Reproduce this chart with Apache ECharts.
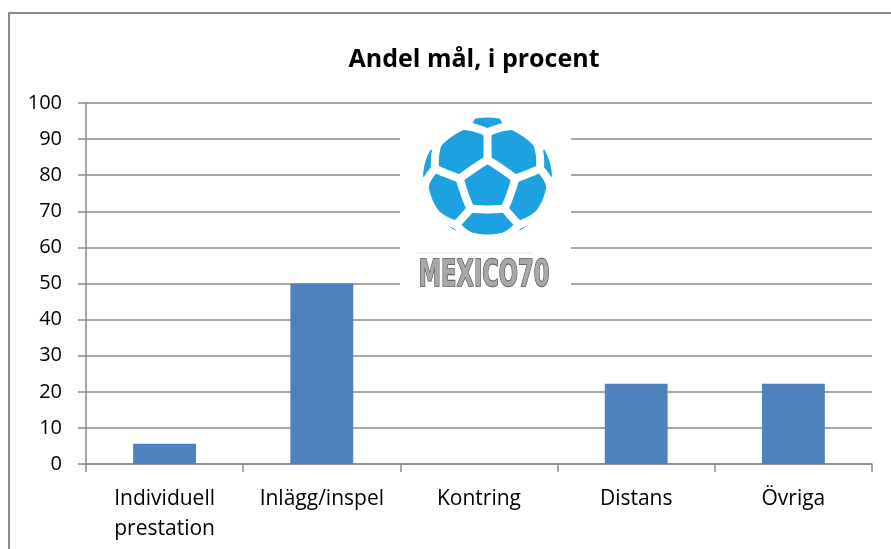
<!DOCTYPE html>
<html>
<head>
<meta charset="utf-8">
<title>Andel mål, i procent</title>
<script src="https://cdn.jsdelivr.net/npm/echarts@6/dist/echarts.min.js"></script>
<style>
  html, body { margin: 0; padding: 0; background: #fff; }
  #main { width: 891px; height: 549px; }
</style>
</head>
<body>
<div id="main"></div>
<script>
// data
var categories = ['Individuell\nprestation', 'Inlägg/inspel', 'Kontring', 'Distans', 'Övriga'];
var andel = [5.6, 50, 0, 22.2, 22.2];
var yTicks = [0, 10, 20, 30, 40, 50, 60, 70, 80, 90, 100];

var FONT = '"Open Sans"';
var GRAY = '#8a8a8a';

// --- Mexico 70 ball logo (decoration) ---
// truncated icosahedron on a sphere, seams drawn as white lines over a blue disc
function ballSeams(cx, cy, rx, ry, tilt, k) {
  var phi = (1 + Math.sqrt(5)) / 2;
  var base = [[0, 1, 3 * phi], [1, 2 + phi, 2 * phi], [phi, 2, 2 * phi + 1]];
  var seen = {}, verts = [];
  base.forEach(function (b) {
    for (var s = 0; s < 8; s++) {
      var p = [b[0] * (s & 1 ? -1 : 1), b[1] * (s & 2 ? -1 : 1), b[2] * (s & 4 ? -1 : 1)];
      for (var c = 0; c < 3; c++) {
        var q = [p[c % 3], p[(c + 1) % 3], p[(c + 2) % 3]];
        var key = q.map(function (v) { return v.toFixed(3); }).join(',');
        if (!seen[key]) { seen[key] = 1; verts.push(q); }
      }
    }
  });
  function dot(a, b) { return a[0] * b[0] + a[1] * b[1] + a[2] * b[2]; }
  function norm(a) { var l = Math.sqrt(dot(a, a)); return [a[0] / l, a[1] / l, a[2] / l]; }
  function cross(a, b) { return [a[1] * b[2] - a[2] * b[1], a[2] * b[0] - a[0] * b[2], a[0] * b[1] - a[1] * b[0]]; }
  var w = norm([0, 1, phi]);
  var best = verts.slice().sort(function (a, b) { return dot(b, w) - dot(a, w); })[0];
  var d = dot(best, w);
  var up = norm([best[0] - d * w[0], best[1] - d * w[1], best[2] - d * w[2]]);
  var right = cross(up, w);
  var ct = Math.cos(tilt), st = Math.sin(tilt);
  function proj(p) {
    p = norm(p);
    var x = dot(p, right), y = -dot(p, up), z = dot(p, w);
    var y2 = y * ct + z * st, z2 = -y * st + z * ct;
    var rho = Math.sqrt(x * x + y2 * y2);
    var a = Math.acos(Math.max(-1, Math.min(1, z2))) * k;
    // magnified orthographic view; beyond the rim the seams run off outside the disc
    var r2 = a <= Math.PI / 2 ? Math.sin(a) : 1 + (a - Math.PI / 2) * 0.8;
    var f = rho > 1e-6 ? r2 / rho : 0;
    return [cx + x * f * rx, cy + y2 * f * ry, a];
  }
  var lines = [];
  for (var i = 0; i < verts.length; i++) {
    for (var j = i + 1; j < verts.length; j++) {
      var a = verts[i], b = verts[j];
      var dd = Math.pow(a[0] - b[0], 2) + Math.pow(a[1] - b[1], 2) + Math.pow(a[2] - b[2], 2);
      if (Math.abs(dd - 4) > 0.01) continue;
      var pts = [], vis = false;
      for (var t = 0; t <= 12; t++) {
        var m = [a[0] + (b[0] - a[0]) * t / 12, a[1] + (b[1] - a[1]) * t / 12, a[2] + (b[2] - a[2]) * t / 12];
        var pr = proj(m);
        if (pr[2] < Math.PI / 2 + 0.1) vis = true;
        pts.push([pr[0], pr[1]]);
      }
      if (vis) lines.push(pts);
    }
  }
  return lines;
}

var ballCx = 487.5, ballCy = 178, ballRx = 64.5, ballRy = 60.5;
var seams = ballSeams(ballCx, ballCy, ballRx, ballRy, 0.12, 1.34);

var logo = [
  { type: 'rect', z: 100, shape: { x: 400, y: 106, width: 171, height: 194 }, style: { fill: '#fff' } },
  { type: 'ellipse', z: 101, shape: { cx: ballCx, cy: ballCy, rx: ballRx, ry: ballRy }, style: { fill: '#1ca2e1' } }
];
seams.forEach(function (pts) {
  logo.push({ type: 'polyline', z: 102, shape: { points: pts }, style: { stroke: '#fff', lineWidth: 8, lineCap: 'round', lineJoin: 'round', fill: null } });
});
logo.push({ type: 'ellipse', z: 103, shape: { cx: ballCx, cy: ballCy, rx: ballRx + 3, ry: ballRy + 3 }, style: { fill: null, stroke: '#fff', lineWidth: 5 } });
logo.push({ type: 'line', z: 103, shape: { x1: 417, y1: 253, x2: 533, y2: 253 }, style: { stroke: '#e6e6e6', lineWidth: 1 } });
logo.push({
  type: 'text', z: 104, x: 484, y: 276, scaleX: 0.66,
  style: {
    text: 'MEXICO70', x: 0, y: 0, align: 'center', verticalAlign: 'middle',
    font: 'bold 38px "DejaVu Sans Condensed"', fill: '#a8a8a8', stroke: '#4a4a4a', lineWidth: 1.6
  }
});

var chart = echarts.init(document.getElementById('main'), null, { renderer: 'canvas' });
chart.setOption({
  animation: false,
  backgroundColor: '#fff',
  title: {
    text: 'Andel mål, i procent',
    left: 474,
    textAlign: 'center',
    top: 47,
    padding: 0,
    textStyle: { fontFamily: FONT, fontWeight: 'bold', fontSize: 25, color: '#000' }
  },
  grid: { left: 86, right: 19, top: 103, bottom: 85, containLabel: false },
  xAxis: {
    type: 'category',
    data: categories,
    axisLine: { lineStyle: { color: GRAY, width: 1.5 } },
    axisTick: { show: true, length: 8, interval: 0, alignWithLabel: false, lineStyle: { color: GRAY, width: 1.5 } },
    axisLabel: { interval: 0, margin: 20, fontFamily: FONT, fontSize: 21, lineHeight: 30, color: '#000' }
  },
  yAxis: {
    type: 'value',
    min: yTicks[0],
    max: yTicks[yTicks.length - 1],
    interval: yTicks[1] - yTicks[0],
    axisLine: { show: true, lineStyle: { color: GRAY, width: 1.5 } },
    axisTick: { show: true, length: 8, lineStyle: { color: GRAY, width: 1.5 } },
    splitLine: { show: true, lineStyle: { color: GRAY, width: 1.5 } },
    axisLabel: { margin: 24, fontFamily: FONT, fontSize: 20, color: '#000' }
  },
  series: [{
    type: 'bar',
    data: andel,
    barCategoryGap: '60%',
    itemStyle: { color: '#4f81bd' }
  }],
  graphic: [
    { type: 'rect', z: 0, shape: { x: 9, y: 13, width: 900, height: 560 }, style: { fill: null, stroke: '#8c8c8c', lineWidth: 2 } }
  ].concat(logo)
});
</script>
</body>
</html>
